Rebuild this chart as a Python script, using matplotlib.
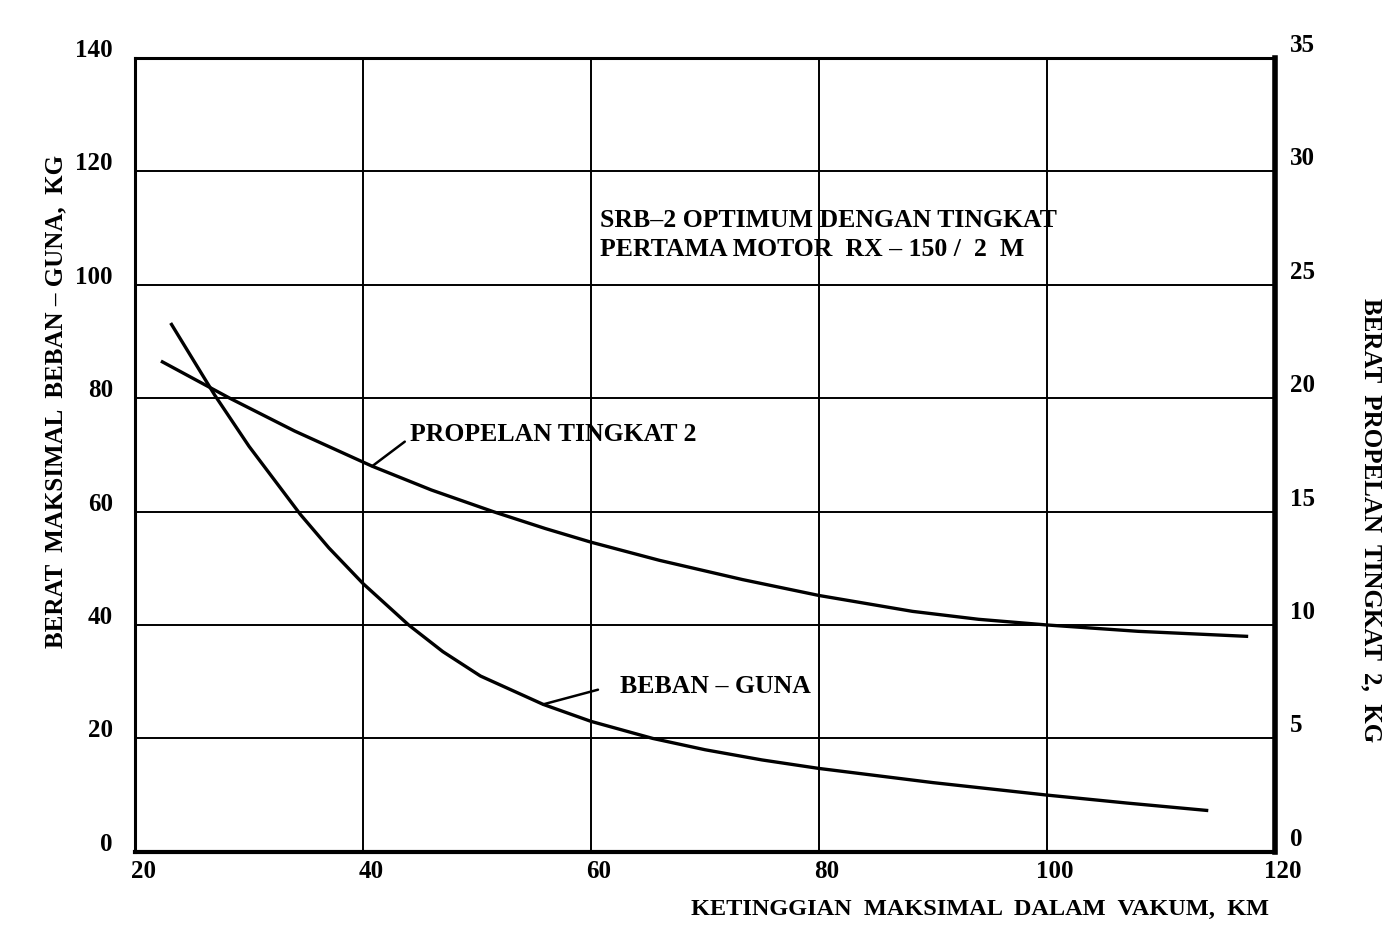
import matplotlib
matplotlib.use("Agg")
import matplotlib.pyplot as plt
import matplotlib.transforms as mtransforms

# -- data

# payload (left axis, kg) against altitude (km)
beban_km = [23.2, 27, 30, 34.5, 37, 40, 44, 47, 50.3, 55.8, 60, 65.4, 70, 75, 80, 90, 100, 107, 114]
beban_kg = [93, 80.5, 71.5, 59.5, 53.6, 47.3, 40, 35.3, 31.0, 26.0, 23.0, 20.0, 18.0, 16.2, 14.7, 12.2, 10.0, 8.6, 7.3]

# second stage propellant (right axis, kg) against altitude (km)
prop_km = [22.4, 28.3, 34, 40.8, 46, 51.4, 56, 60, 66, 73.3, 80, 88.2, 94, 100, 108, 117.5]
prop_kg = [21.6, 20.0, 18.55, 17.0, 15.95, 15.0, 14.25, 13.65, 12.85, 12.0, 11.3, 10.6, 10.25, 10.0, 9.72, 9.5]

x_ticks = [20, 40, 60, 80, 100, 120]
left_ticks = [0, 20, 40, 60, 80, 100, 120, 140]
right_ticks = [0, 5, 10, 15, 20, 25, 30, 35]

plt.rcParams['font.family'] = ['Liberation Serif', 'DejaVu Serif']
plt.rcParams['font.weight'] = 'bold'

fig = plt.figure(figsize=(13.88, 9.34), dpi=100)
ax = fig.add_axes([0.0973, 0.088, 0.8213, 0.850])
ax2 = ax.twinx()

ax.set_xlim(20, 120)
ax.set_ylim(0, 140)
ax2.set_ylim(0, 35)

ax.set_xticks(x_ticks)
ax.set_yticks(left_ticks)
ax2.set_yticks(right_ticks)
ax.grid(True, color='black', linewidth=1.4)
ax.tick_params(axis='y', length=0, labelsize=18, pad=16)
ax.tick_params(axis='x', length=0, labelsize=18, pad=6)
ax2.tick_params(length=0, labelsize=18, pad=11)

# labels sit a bit above their grid lines in the scan
for lab in ax.get_yticklabels():
    lab.set_transform(lab.get_transform() + mtransforms.ScaledTranslation(0, 0.10, fig.dpi_scale_trans))
for lab in ax2.get_yticklabels():
    lab.set_transform(lab.get_transform() + mtransforms.ScaledTranslation(0, 0.15, fig.dpi_scale_trans))
for lab in ax.get_xticklabels():
    lab.set_transform(lab.get_transform() + mtransforms.ScaledTranslation(0.08, 0, fig.dpi_scale_trans))

for name, sp in ax.spines.items():
    sp.set_linewidth(2.2)
ax2.spines['right'].set_linewidth(4)
ax.spines['bottom'].set_linewidth(3)

ax.plot(beban_km, beban_kg, color='black', linewidth=2.4)
ax2.plot(prop_km, prop_kg, color='black', linewidth=2.4)

# -- annotations
ax.text(60.8, 108.75, "SRB\u20132 OPTIMUM DENGAN TINGKAT\nPERTAMA MOTOR  RX \u2013 150 /  2  M",
        fontsize=18.5, va='center', ha='left', linespacing=1.3)

# leader lines start at the left edge of each label
ax2.annotate("PROPELAN TINGKAT 2", xy=(40.8, 17.0), xytext=(44.1, 18.4),
             fontsize=18.5, va='center', ha='left',
             arrowprops=dict(arrowstyle='-', color='black', lw=1.8, relpos=(0, 0.35),
                             shrinkA=2, shrinkB=0))
ax.annotate("BEBAN \u2013 GUNA", xy=(55.8, 26.0), xytext=(62.5, 29.2),
            fontsize=18.5, va='center', ha='left',
            arrowprops=dict(arrowstyle='-', color='black', lw=1.8, relpos=(0, 0.6),
                            shrinkA=14, shrinkB=0))

fig.text(0.706, 0.026, "KETINGGIAN  MAKSIMAL  DALAM  VAKUM,  KM", fontsize=17.5, ha='center', va='center')
fig.text(0.040, 0.570, "BERAT  MAKSIMAL  BEBAN \u2013 GUNA,  KG", fontsize=18, rotation=90, ha='center', va='center')
fig.text(0.988, 0.443, "BERAT  PROPELAN  TINGKAT  2,  KG", fontsize=18, rotation=-90, ha='center', va='center')

fig.savefig("out.png", dpi=100)
